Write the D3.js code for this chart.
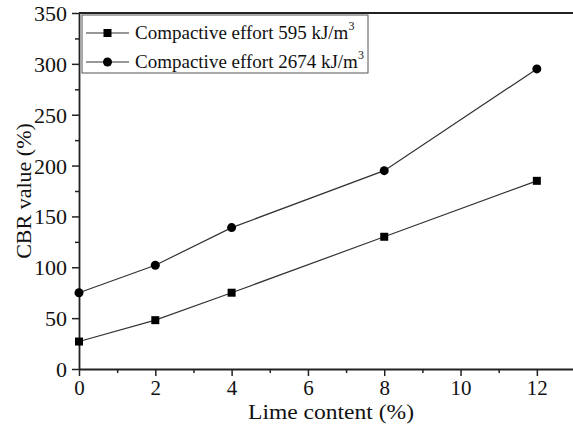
<!DOCTYPE html>
<html>
<head>
<meta charset="utf-8">
<script src="https://cdn.jsdelivr.net/npm/d3@7"></script>
<style>
  body { margin: 0; background: #fff; }
</style>
</head>
<body>
<div id="chart"></div>
<script>
// lime content (%) on the x axis
var limeContent = [0, 2, 4, 8, 12];
// CBR values (%) for both compactive efforts
var cbrLow = [27, 48, 75, 130, 185];
var cbrHigh = [75, 102, 139, 195, 295];
var seriesNames = ["Compactive effort 595 kJ/m", "Compactive effort 2674 kJ/m"];
var xTicks = [0, 2, 4, 6, 8, 10, 12];
var yTicks = [0, 50, 100, 150, 200, 250, 300, 350];

var FONT = "'Liberation Serif', 'Times New Roman', serif";
var width = 573, height = 425;
var margins = {top: 13, right: -2, bottom: 56, left: 79};

var svg = d3.select("#chart").append("svg")
    .attr("width", width)
    .attr("height", height)
    .style("font-family", FONT);

var x = d3.scaleLinear()
    .domain([0, 13])
    .range([margins.left, width - margins.right]);

var y = d3.scaleLinear()
    .domain([0, 350])
    .range([height - margins.bottom, margins.top]);

// minor ticks first
svg.append("g")
    .attr("transform", "translate(0," + y(0) + ")")
    .call(d3.axisBottom(x).tickValues(d3.range(1, 13, 2)).tickSize(4).tickFormat(""))
    .call(g => g.select(".domain").remove())
    .selectAll("line").attr("stroke", "#222").attr("stroke-width", 1.5);

svg.append("g")
    .attr("transform", "translate(" + x(0) + ",0)")
    .call(d3.axisLeft(y).tickValues(d3.range(25, 350, 50)).tickSize(4).tickFormat(""))
    .call(g => g.select(".domain").remove())
    .selectAll("line").attr("stroke", "#222").attr("stroke-width", 1.5);

// x axis
var xAxis = svg.append("g")
    .attr("transform", "translate(0," + y(0) + ")")
    .call(d3.axisBottom(x).tickValues(xTicks).tickSize(7).tickSizeOuter(0).tickPadding(4))
    .attr("font-family", null).attr("font-size", null);
xAxis.select(".domain").attr("stroke", "#222").attr("stroke-width", 1.8);
xAxis.selectAll("line").attr("stroke", "#222").attr("stroke-width", 1.5);
xAxis.selectAll("text")
    .style("font-family", FONT).style("font-size", "21px").attr("fill", "#111");

// y axis
var yAxis = svg.append("g")
    .attr("transform", "translate(" + x(0) + ",0)")
    .call(d3.axisLeft(y).tickValues(yTicks).tickSize(7).tickSizeOuter(0).tickPadding(5))
    .attr("font-family", null).attr("font-size", null);
yAxis.select(".domain").attr("stroke", "#222").attr("stroke-width", 1.8);
yAxis.selectAll("line").attr("stroke", "#222").attr("stroke-width", 1.5);
yAxis.selectAll("text")
    .style("font-family", FONT).style("font-size", "22px").attr("fill", "#111").attr("dy", "0.34em");

// top frame line
svg.append("line")
    .attr("x1", x(0)).attr("x2", width)
    .attr("y1", y(350)).attr("y2", y(350))
    .attr("stroke", "#222").attr("stroke-width", 1.8);

// axis titles
svg.append("text")
    .attr("x", 331)
    .attr("y", 419)
    .attr("text-anchor", "middle")
    .attr("fill", "#111")
    .attr("textLength", 166)
    .attr("lengthAdjust", "spacingAndGlyphs")
    .style("font-size", "21px")
    .text("Lime content (%)");

svg.append("text")
    .attr("transform", "translate(31," + ((y(0) + y(350)) / 2) + ") rotate(-90)")
    .attr("text-anchor", "middle")
    .attr("fill", "#111")
    .style("font-size", "22px")
    .text("CBR value (%)");

// lines and markers
var line = d3.line()
    .x(function(d, i) { return x(limeContent[i]); })
    .y(function(d) { return y(d); });

[cbrLow, cbrHigh].forEach(function(vals) {
    svg.append("path")
        .datum(vals)
        .attr("d", line)
        .attr("fill", "none")
        .attr("stroke", "#333")
        .attr("stroke-width", 1.2);
});

svg.append("g").selectAll("rect")
    .data(cbrLow)
    .enter().append("rect")
    .attr("x", function(d, i) { return x(limeContent[i]) - 4; })
    .attr("y", function(d) { return y(d) - 4; })
    .attr("width", 8)
    .attr("height", 8)
    .attr("fill", "#000");

svg.append("g").selectAll("circle")
    .data(cbrHigh)
    .enter().append("circle")
    .attr("cx", function(d, i) { return x(limeContent[i]); })
    .attr("cy", function(d) { return y(d); })
    .attr("r", 4.5)
    .attr("fill", "#000");

// legend
var legend = svg.append("g");
legend.append("rect")
    .attr("x", 82).attr("y", 15)
    .attr("width", 286).attr("height", 58)
    .attr("fill", "#fff")
    .attr("stroke", "#555")
    .attr("stroke-width", 1);

seriesNames.forEach(function(name, i) {
    var ly = 33 + i * 29;
    legend.append("line")
        .attr("x1", 86).attr("x2", 129)
        .attr("y1", ly).attr("y2", ly)
        .attr("stroke", "#333").attr("stroke-width", 1.2);
    if (i === 0) {
        legend.append("rect")
            .attr("x", 103.5).attr("y", ly - 4)
            .attr("width", 8).attr("height", 8)
            .attr("fill", "#000");
    } else {
        legend.append("circle")
            .attr("cx", 107.5).attr("cy", ly)
            .attr("r", 4.5)
            .attr("fill", "#000");
    }
    var t = legend.append("text")
        .attr("x", 135).attr("y", ly + 6)
        .attr("fill", "#111")
        .style("font-size", "19px")
        .text(name);
    t.append("tspan")
        .attr("dy", "-9")
        .style("font-size", "12px")
        .text("3");
});
</script>
</body>
</html>
